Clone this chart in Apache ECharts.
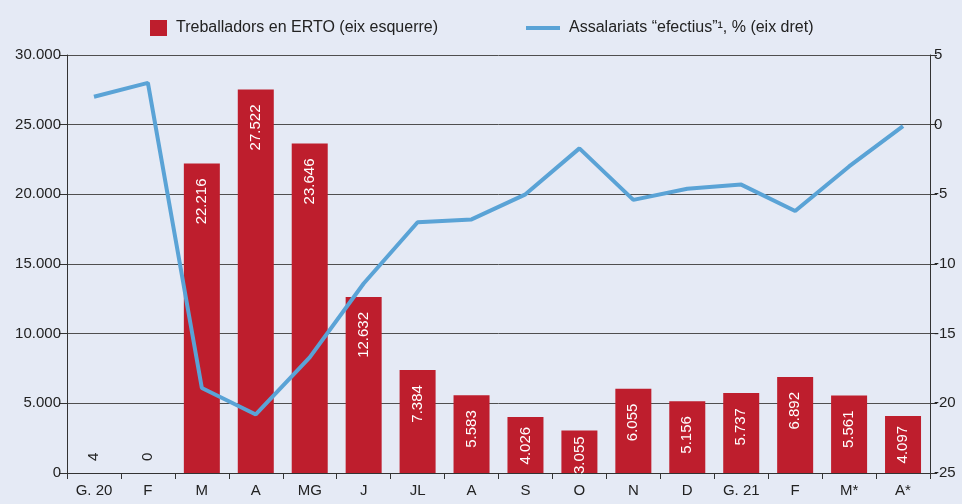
<!DOCTYPE html>
<html>
<head>
<meta charset="utf-8">
<script src="https://cdn.jsdelivr.net/npm/echarts@6/dist/echarts.min.js"></script>
<style>
  html, body { margin: 0; padding: 0; background: #e5eaf5; }
  #main { width: 962px; height: 504px; }
</style>
</head>
<body>
<div id="main"></div>
<script>
// mesos
var months = ["G. 20", "F", "M", "A", "MG", "J", "JL", "A", "S", "O", "N", "D", "G. 21", "F", "M*", "A*"];
// treballadors en ERTO (eix esquerre)
var erto = [4, 0, 22216, 27522, 23646, 12632, 7384, 5583, 4026, 3055, 6055, 5156, 5737, 6892, 5561, 4097];
// assalariats efectius, % (eix dret)
var efectius = [2.0, 3.0, -18.9, -20.8, -16.7, -11.4, -7.0, -6.8, -5.0, -1.7, -5.4, -4.6, -4.3, -6.2, -3.0, -0.1];

var FONT = "'Liberation Sans', Arial, sans-serif";

function punts(v) {
  return String(v).replace(/\B(?=(\d{3})+(?!\d))/g, ".");
}

// etiquetes: dins la barra (blanc) o damunt (fosc) si la barra es petita
var barData = erto.map(function (v) {
  if (v < 100) {
    return {
      value: v,
      label: { position: "top", color: "#222", align: "left", distance: 12 }
    };
  }
  var d = v < 3500 ? 6 : (v < 4500 ? 10 : 15);
  return { value: v, label: { distance: d } };
});

var chart = echarts.init(document.getElementById("main"));
chart.setOption({
  backgroundColor: "#e5eaf5",
  animation: false,
  textStyle: { fontFamily: FONT },
  legend: [
    {
      data: ["Treballadors en ERTO (eix esquerre)"],
      left: 145, top: 15,
      icon: "rect", itemWidth: 17, itemHeight: 16,
      textStyle: { fontFamily: FONT, fontSize: 16, color: "#222", padding: [0, 0, 0, 4] }
    },
    {
      data: ["Assalariats \u201cefectius\u201d\u00b9, % (eix dret)"],
      left: 521, top: 15,
      icon: "rect", itemWidth: 34, itemHeight: 4,
      textStyle: { fontFamily: FONT, fontSize: 16, color: "#222", padding: [0, 0, 0, 4] }
    }
  ],
  grid: { left: 67, right: 32, top: 55, bottom: 31 },
  xAxis: {
    type: "category",
    data: months,
    axisLine: { lineStyle: { color: "#333", width: 1 } },
    axisTick: { show: true, length: 6, lineStyle: { color: "#333" } },
    axisLabel: { color: "#222", fontSize: 15, margin: 10, interval: 0, fontFamily: FONT }
  },
  yAxis: [
    {
      type: "value",
      min: 0, max: 30000, interval: 5000,
      axisLine: { show: true, lineStyle: { color: "#333" } },
      axisTick: { show: true, length: 8, lineStyle: { color: "#333" } },
      axisLabel: {
        color: "#222", fontSize: 15, margin: 6, fontFamily: FONT,
        formatter: function (v) { return punts(v); }
      },
      splitLine: { lineStyle: { color: "#4f4f4f", width: 1 } }
    },
    {
      type: "value",
      min: -25, max: 5, interval: 5,
      axisLine: { show: true, lineStyle: { color: "#333" } },
      axisTick: { show: true, length: 7, lineStyle: { color: "#333" } },
      axisLabel: { color: "#222", fontSize: 15, margin: 4, fontFamily: FONT },
      splitLine: { show: false }
    }
  ],
  series: [
    {
      name: "Treballadors en ERTO (eix esquerre)",
      type: "bar",
      data: barData,
      barWidth: 36,
      itemStyle: { color: "#be1e2d" },
      label: {
        show: true,
        position: "insideTop",
        rotate: 90,
        align: "right",
        verticalAlign: "middle",
        color: "#fff",
        fontSize: 15,
        fontFamily: FONT,
        formatter: function (p) { return punts(p.value); }
      }
    },
    {
      name: "Assalariats \u201cefectius\u201d\u00b9, % (eix dret)",
      type: "line",
      yAxisIndex: 1,
      data: efectius,
      symbol: "none",
      z: 5,
      itemStyle: { color: "#5aa3d6" },
      lineStyle: { color: "#5aa3d6", width: 4 }
    }
  ]
});
</script>
</body>
</html>
